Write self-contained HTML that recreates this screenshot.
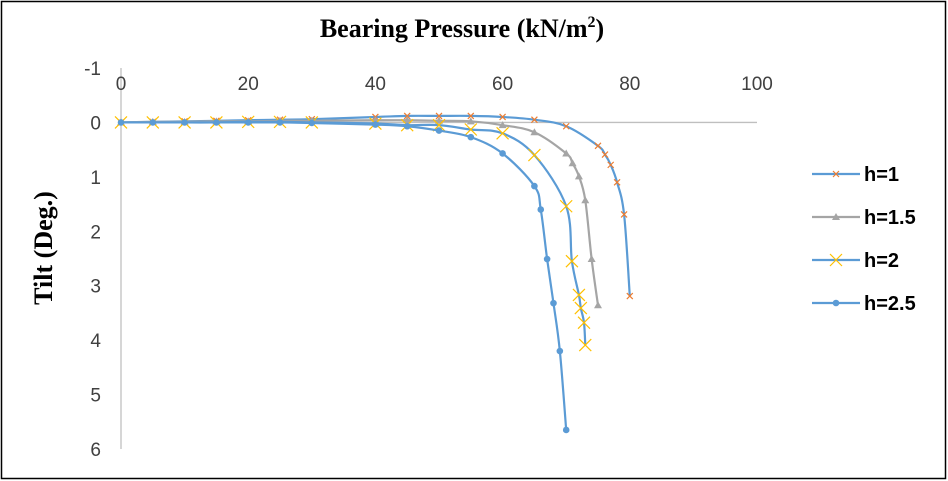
<!DOCTYPE html>
<html><head><meta charset="utf-8"><style>
html,body{margin:0;padding:0;background:#fff;}
svg{display:block;}
</style></head><body>
<svg id="chart" width="948" height="481" xmlns="http://www.w3.org/2000/svg">
<rect x="1.5" y="1.5" width="944" height="477" fill="#fff" stroke="#000" stroke-width="1.5"/>
<text x="462" y="37" text-anchor="middle" font-family="Liberation Serif, serif" font-weight="bold" font-size="26">Bearing Pressure (kN/m<tspan font-size="16" dy="-10">2</tspan><tspan dy="10">)</tspan></text>
<text transform="translate(52,248) rotate(-90)" text-anchor="middle" font-family="Liberation Serif, serif" font-weight="bold" font-size="26">Tilt (Deg.)</text>
<g id="axes"></g>
<g id="series"></g>
<g id="legend"></g>
</svg>
<script>
const xTicks=[0,20,40,60,80,100];
const yTicks=[-1,0,1,2,3,4,5,6];
const seriesNames=["h=1","h=1.5","h=2","h=2.5"];
const h1X=[0,5,10,15,20,25,30,40,45,50,55,60,65,70,75,76.1,77,78,79.1,80];
const h1Y=[0,-0.01,-0.02,-0.03,-0.04,-0.05,-0.06,-0.1,-0.12,-0.12,-0.12,-0.1,-0.05,0.07,0.43,0.59,0.78,1.1,1.69,3.19];
const h15X=[0,5,10,15,20,25,30,40,45,50,55,60,65,70,71,72,73,74,75];
const h15Y=[0,-0.01,-0.01,-0.02,-0.02,-0.03,-0.03,-0.04,-0.04,-0.03,-0.02,0.05,0.18,0.57,0.75,0.99,1.43,2.51,3.36];
const h2X=[0,5,10,15,20,25,30,40,45,50,55,60,65,70,70.9,72,72.3,72.8,73];
const h2Y=[0,0,0,0,-0.01,-0.01,0,0.02,0.05,0.05,0.13,0.2,0.6,1.54,2.55,3.17,3.41,3.68,4.09];
const h25X=[0,5,10,15,20,25,30,40,45,50,55,60,65,66,67,68,69,70];
const h25Y=[0,0,0,0,0,0,0.01,0.04,0.07,0.15,0.27,0.57,1.17,1.6,2.51,3.32,4.2,5.65];

const NS="http://www.w3.org/2000/svg";
const X0=121,X1=757,Ym1=68,Y6=449;
const sx=v=>X0+(X1-X0)*v/100;
const sy=v=>Ym1+(Y6-Ym1)*(v+1)/7;
function mk(tag,attrs,parent){const e=document.createElementNS(NS,tag);for(const k in attrs)e.setAttribute(k,attrs[k]);parent.appendChild(e);return e;}
const axes=document.getElementById('axes');
let a=mk('line',{x1:X0,y1:Ym1,x2:X0,y2:Y6,stroke:'#bfbfbf','stroke-width':1.3},axes);


a=mk('line',{x1:X0,y1:sy(0),x2:X1,y2:sy(0),stroke:'#bfbfbf','stroke-width':1.3},axes);


xTicks.forEach(v=>{const t=mk('text',{x:sx(v),y:90,'text-anchor':'middle','font-family':'Liberation Sans, sans-serif','font-size':19,fill:'#404040'},axes);t.textContent=v;

});
yTicks.forEach(v=>{const t=mk('text',{x:101,y:sy(v)+7,'text-anchor':'end','font-family':'Liberation Sans, sans-serif','font-size':19,fill:'#404040'},axes);t.textContent=v;

});

function smooth(pts){let d=`M${pts[0][0]},${pts[0][1]}`;for(let i=0;i<pts.length-1;i++){const p0=pts[Math.max(0,i-1)],p1=pts[i],p2=pts[i+1],p3=pts[Math.min(pts.length-1,i+2)];const t=0.17;
d+=` C${p1[0]+(p2[0]-p0[0])*t},${p1[1]+(p2[1]-p0[1])*t} ${p2[0]-(p3[0]-p1[0])*t},${p2[1]-(p3[1]-p1[1])*t} ${p2[0]},${p2[1]}`;}return d;}
function marker(g,type,x,y){
 if(type==='x1'){mk('path',{d:`M${x-3},${y-3}L${x+3},${y+3}M${x-3},${y+3}L${x+3},${y-3}`,stroke:'#ed7d31','stroke-width':1.2,fill:'none'},g);}
 else if(type==='tri'){mk('path',{d:`M${x},${y-4}L${x+4},${y+3}L${x-4},${y+3}Z`,fill:'#a5a5a5'},g);}
 else if(type==='x2'){mk('path',{d:`M${x-6},${y-6}L${x+6},${y+6}M${x-6},${y+6}L${x+6},${y-6}`,stroke:'#ffc000','stroke-width':1.2,fill:'none'},g);}
 else {mk('circle',{cx:x,cy:y,r:3.3,fill:'#5b9bd5'},g);}
}
const defs=[[h1X,h1Y,'#5b9bd5','x1'],[h15X,h15Y,'#a5a5a5','tri'],[h2X,h2Y,'#5b9bd5','x2'],[h25X,h25Y,'#5b9bd5','dot']];
const sg=document.getElementById('series');
const lg=document.getElementById('legend');
defs.forEach((d,i)=>{
 const g=mk('g',{},sg);
 
 
 const pts=d[0].map((x,j)=>[sx(x),sy(d[1][j])]);
 mk('path',{d:smooth(pts),stroke:d[2],'stroke-width':2.2,fill:'none'},g);
 pts.forEach(p=>marker(g,d[3],p[0],p[1]));
 const ly=174+i*43;
 const le=mk('g',{},lg);
 
 
 mk('line',{x1:812,y1:ly,x2:860,y2:ly,stroke:d[2],'stroke-width':2.2},le);
 marker(le,d[3],836,ly);
 const t=mk('text',{x:864,y:ly+7,'font-family':'Liberation Sans, sans-serif','font-weight':'bold','font-size':20,fill:'#000'},le);
 t.textContent=seriesNames[i];
});
</script>
</body></html>
